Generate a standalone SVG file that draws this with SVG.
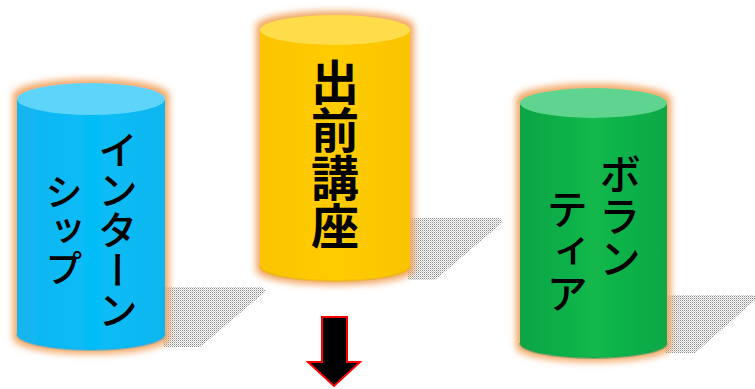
<svg xmlns="http://www.w3.org/2000/svg" width="755" height="389" viewBox="0 0 755 389">
<defs>
<style>
.lbl{font-family:"Noto Sans CJK JP","Noto Sans CJK SC",sans-serif;fill:#000;writing-mode:vertical-rl;}
.shadow{fill:url(#dots);}
</style>
<pattern id="dots" width="2" height="2" patternUnits="userSpaceOnUse">
<rect width="1" height="1" fill="#8a8a8a"/>
<rect x="1" y="1" width="1" height="1" fill="#c8c8c8"/>
</pattern>
<filter id="glow" x="-20%" y="-20%" width="140%" height="140%">
<feMorphology in="SourceAlpha" operator="dilate" radius="4" result="d"/>
<feGaussianBlur in="d" stdDeviation="3.5" result="b"/>
<feFlood flood-color="#f2a662"/>
<feComposite in2="b" operator="in" result="g"/>
<feMerge><feMergeNode in="g"/><feMergeNode in="SourceGraphic"/></feMerge>
</filter>
<linearGradient id="gBlue" x1="0" y1="0" x2="1" y2="0">
<stop offset="0" stop-color="#16b4ef"/><stop offset="0.5" stop-color="#05bdf8"/><stop offset="1" stop-color="#10b6ee"/>
</linearGradient>
<linearGradient id="gYellow" x1="0" y1="0" x2="1" y2="0">
<stop offset="0" stop-color="#fbc400"/><stop offset="0.5" stop-color="#ffcc00"/><stop offset="1" stop-color="#f9c400"/>
</linearGradient>
<linearGradient id="gGreen" x1="0" y1="0" x2="1" y2="0">
<stop offset="0" stop-color="#0ea444"/><stop offset="0.5" stop-color="#12b84c"/><stop offset="1" stop-color="#0ea846"/>
</linearGradient>
</defs>

<g id="shadows">
<polygon class="shadow" points="163,287 262,287 266,291 200,347 163,347"/>
<polygon class="shadow" points="408,218 500,218 503,222 435,280 408,280"/>
<polygon class="shadow" points="665,295 755,295 755,300 695,353 665,353"/>
</g>

<g id="internship">
<g filter="url(#glow)">
<path d="M17,99 L17,334 A74,16 0 0 0 165,334 L165,99 Z" fill="url(#gBlue)"/>
<ellipse cx="91" cy="99" rx="74" ry="16" fill="#5ed4fb"/>
</g>
<path d="M17,334 A74,16 0 0 0 165,334" fill="none" stroke="#12a9dc" stroke-width="2" opacity="0.5"/>
<text class="lbl" x="118" y="130" font-size="40" font-weight="500">インターン</text>
<text class="lbl" x="64" y="173" font-size="38" font-weight="500">シップ</text>
</g>

<g id="demae">
<g filter="url(#glow)">
<path d="M260,30 L260,266 A75,15 0 0 0 410,266 L410,30 Z" fill="url(#gYellow)"/>
<ellipse cx="335" cy="30" rx="75" ry="15" fill="#ffdc48"/>
</g>
<path d="M260,266 A75,15 0 0 0 410,266" fill="none" stroke="#e5b000" stroke-width="2" opacity="0.5"/>
<text class="lbl" x="335" y="58" font-size="48" font-weight="bold">出前講座</text>
</g>

<g id="volunteer">
<g filter="url(#glow)">
<path d="M520,103 L520,343 A73.5,15 0 0 0 667,343 L667,103 Z" fill="url(#gGreen)"/>
<ellipse cx="593.5" cy="103" rx="73.5" ry="15" fill="#5ed490"/>
</g>
<path d="M520,343 A73.5,15 0 0 0 667,343" fill="none" stroke="#0a9a5a" stroke-width="2" opacity="0.5"/>
<text class="lbl" x="620" y="153" font-size="42" font-weight="500">ボラン</text>
<text class="lbl" x="567" y="188" font-size="42" font-weight="500">ティア</text>
</g>

<g id="connectors">
<polygon points="322,317 347,317 347,362 360,362 334,386 308,362 322,362" fill="#000" stroke="#ff0000" stroke-width="2" stroke-linejoin="miter"/>
</g>
</svg>
